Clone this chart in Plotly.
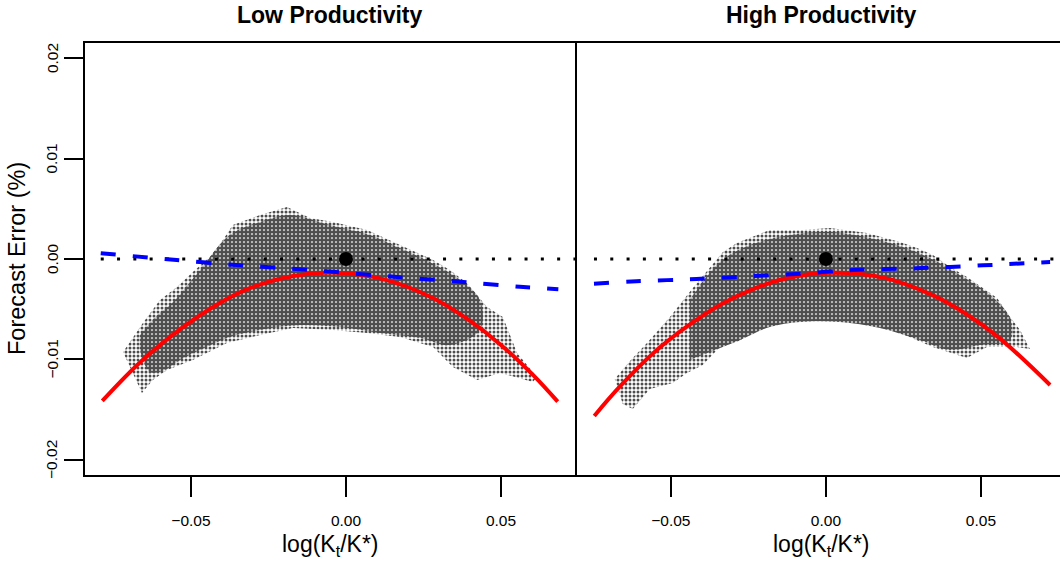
import plotly.graph_objects as go

# ---------------- data ----------------
# Low productivity panel: outline of the simulated point cloud
low_cloud_upper_x = [-0.0719, -0.0655, -0.0600, -0.0545, -0.0494, -0.0439, -0.0397, -0.0365, -0.0277,
                     -0.0190, -0.0116, -0.0042, 0.0068, 0.0152, 0.0206, 0.0281, 0.0335, 0.0390,
                     0.0455, 0.0506, 0.0552, 0.0616]
low_cloud_upper_y = [-0.00925, -0.00637, -0.00408, -0.00279, -0.00129, 0.00020, 0.00189, 0.00338, 0.00438,
                     0.00517, 0.00408, 0.00368, 0.00289, 0.00169, 0.00090, -0.00010, -0.00109, -0.00239,
                     -0.00478, -0.00577, -0.00935, -0.01174]
low_cloud_lower_x = [-0.0658, -0.0623, -0.0577, -0.0494, -0.0384, -0.0277, -0.0171, -0.0042, 0.0068,
                     0.0174, 0.0281, 0.0345, 0.0423, 0.0497, 0.0603]
low_cloud_lower_y = [-0.01333, -0.01204, -0.01104, -0.01005, -0.00836, -0.00756, -0.00687, -0.00706, -0.00736,
                     -0.00776, -0.00876, -0.01075, -0.01204, -0.01134, -0.01224]
# dense core of the cloud
low_core_upper_x = [-0.0665, -0.0616, -0.0552, -0.0471, -0.0374, -0.0277, -0.0181, -0.0052, 0.0077, 0.0174,
                    0.0271, 0.0368, 0.0432]
low_core_upper_y = [-0.00756, -0.00587, -0.00408, -0.00109, 0.00239, 0.00368, 0.00438, 0.00338, 0.00239, 0.00109,
                    -0.00030, -0.00209, -0.00408]
low_core_lower_x = [-0.0665, -0.0632, -0.0584, -0.0535, -0.0471, -0.0374, -0.0277, -0.0148, -0.0019, 0.0110,
                    0.0239, 0.0335, 0.0432]
low_core_lower_y = [-0.00900, -0.01124, -0.01104, -0.01005, -0.00905, -0.00776, -0.00706, -0.00657, -0.00677,
                    -0.00736, -0.00786, -0.00856, -0.00706]

low_fit_x = [-0.0786, -0.0654, -0.0493, -0.0331, -0.0170, -0.0030, 0.0120, 0.0282, 0.0389, 0.0497, 0.0604, 0.0683]
low_fit_y = [-0.01413, -0.01000, -0.00607, -0.00318, -0.00170, -0.00136, -0.00200, -0.00390, -0.00592,
             -0.00848, -0.01156, -0.01420]

low_lin_x = [-0.0791, -0.0546, -0.0353, -0.0148, 0.0174, 0.0368, 0.0561, 0.0685]
low_lin_y = [0.00057, -0.00010, -0.00060, -0.00102, -0.00182, -0.00226, -0.00276, -0.00301]

low_zero_x = [-0.0791, 0.0742]

# High productivity panel
high_cloud_upper_x = [-0.0681, -0.0626, -0.0574, -0.0503, -0.0429, -0.0332, -0.0287, -0.0223, -0.0181,
                      -0.0074, 0.0013, 0.0132, 0.0239, 0.0294, 0.0345, 0.0400, 0.0455, 0.0506,
                      0.0552, 0.0584, 0.0626, 0.0658]
high_cloud_upper_y = [-0.01194, -0.00995, -0.00826, -0.00577, -0.00289, 0.00070, 0.00159, 0.00239, 0.00289,
                      0.00289, 0.00308, 0.00259, 0.00169, 0.00109, 0.00040, -0.00080, -0.00179, -0.00289,
                      -0.00388, -0.00537, -0.00706, -0.00896]
high_cloud_lower_x = [-0.0655, -0.0623, -0.0568, -0.0494, -0.0448, -0.0397, -0.0342, -0.0287, -0.0181,
                      -0.0126, -0.0084, 0.0023, 0.0132, 0.0239, 0.0345, 0.0455, 0.0474, 0.0519, 0.0616]
high_cloud_lower_y = [-0.01443, -0.01493, -0.01294, -0.01234, -0.01134, -0.01055, -0.00876, -0.00826, -0.00637,
                      -0.00577, -0.00607, -0.00607, -0.00637, -0.00736, -0.00876, -0.00985, -0.00955,
                      -0.00876, -0.00876]
high_core_upper_x = [-0.0439, -0.0342, -0.0245, -0.0116, 0.0013, 0.0142, 0.0239, 0.0335, 0.0432, 0.0529, 0.0594]
high_core_upper_y = [-0.00408, -0.00030, 0.00139, 0.00239, 0.00269, 0.00209, 0.00129, 0.00010, -0.00159, -0.00358, -0.00587]
high_core_lower_x = [-0.0439, -0.0374, -0.0277, -0.0181, -0.0084, 0.0045, 0.0174, 0.0303, 0.0400, 0.0497, 0.0594]
high_core_lower_y = [-0.01005, -0.00925, -0.00806, -0.00677, -0.00627, -0.00627, -0.00687, -0.00806, -0.00905, -0.00856, -0.00806]

high_fit_x = [-0.0747, -0.0665, -0.0557, -0.0449, -0.0342, -0.0235, -0.0127, 0.0013, 0.0185, 0.0346,
              0.0454, 0.0561, 0.0723]
high_fit_y = [-0.01562, -0.01271, -0.00938, -0.00674, -0.00458, -0.00300, -0.00192, -0.00138, -0.00185,
              -0.00362, -0.00550, -0.00790, -0.01254]

high_lin_x = [-0.0748, -0.0611, -0.0417, -0.0213, -0.0095, 0.0088, 0.0293, 0.0507, 0.0723]
high_lin_y = [-0.00246, -0.00222, -0.00199, -0.00166, -0.00149, -0.00109, -0.00093, -0.00063, -0.00030]

high_zero_x = [-0.0748, 0.0755]

steady_x = [0.0]
steady_y = [0.0]

panel_titles = ["Low Productivity", "High Productivity"]
x_tick_vals = [-0.05, 0.0, 0.05]
x_tick_text = ["\u22120.05", "0.00", "0.05"]
y_tick_vals = [-0.02, -0.01, 0.0, 0.01, 0.02]
y_tick_text = ["\u22120.02", "\u22120.01", "0.00", "0.01", "0.02"]

# ---------------- styling ----------------
FONT = "Liberation Sans, Arial, Helvetica, sans-serif"
GRAY = "#4d4d4d"
W, H = 1060, 563
ML, MR, MT, MB = 84, 0, 42, 87
split = (576 - ML) / (W - ML - MR)

fig = go.Figure()

panels = [
    ("x", low_cloud_upper_x, low_cloud_upper_y, low_cloud_lower_x, low_cloud_lower_y,
     low_core_upper_x, low_core_upper_y, low_core_lower_x, low_core_lower_y,
     low_fit_x, low_fit_y, low_lin_x, low_lin_y, low_zero_x),
    ("x2", high_cloud_upper_x, high_cloud_upper_y, high_cloud_lower_x, high_cloud_lower_y,
     high_core_upper_x, high_core_upper_y, high_core_lower_x, high_core_lower_y,
     high_fit_x, high_fit_y, high_lin_x, high_lin_y, high_zero_x),
]

for (xa, ux, uy, lx, ly, cux, cuy, clx, cly, fx, fy, bx, by, zx) in panels:
    # outer (sparse) part of the point cloud
    fig.add_trace(go.Scatter(
        x=ux + lx[::-1], y=uy + ly[::-1], xaxis=xa, yaxis="y",
        mode="lines", line=dict(width=0, color="rgba(0,0,0,0)"),
        fill="toself", fillcolor="rgba(0,0,0,0)",
        fillpattern=dict(shape=".", fgcolor=GRAY, bgcolor="rgba(0,0,0,0)",
                         size=4, solidity=0.45, fillmode="replace"),
        hoverinfo="skip", showlegend=False))
    # dense core of the point cloud
    fig.add_trace(go.Scatter(
        x=cux + clx[::-1], y=cuy + cly[::-1], xaxis=xa, yaxis="y",
        mode="lines", line=dict(width=0, color="rgba(0,0,0,0)", shape="spline"),
        fill="toself", fillcolor="rgba(0,0,0,0)",
        fillpattern=dict(shape=".", fgcolor=GRAY, bgcolor="rgba(0,0,0,0)",
                         size=4, solidity=0.8, fillmode="replace"),
        hoverinfo="skip", showlegend=False))
    # zero line (dotted)
    fig.add_trace(go.Scatter(
        x=zx, y=[0, 0], xaxis=xa, yaxis="y", mode="lines",
        line=dict(color="black", width=3, dash="3px,13.3px"),
        showlegend=False, hoverinfo="skip"))
    # steady state point
    fig.add_trace(go.Scatter(
        x=steady_x, y=steady_y, xaxis=xa, yaxis="y", mode="markers",
        marker=dict(color="black", size=14), showlegend=False, hoverinfo="skip"))
    # quadratic fit (red)
    fig.add_trace(go.Scatter(
        x=fx, y=fy, xaxis=xa, yaxis="y", mode="lines",
        line=dict(color="#ff0000", width=4, shape="spline", smoothing=1.0),
        showlegend=False, hoverinfo="skip"))
    # linear fit (blue dashed)
    fig.add_trace(go.Scatter(
        x=bx, y=by, xaxis=xa, yaxis="y", mode="lines",
        line=dict(color="#0000ff", width=4, dash="15px,17px", shape="spline", smoothing=0.6),
        showlegend=False, hoverinfo="skip"))

tick_font = dict(family=FONT, size=15.5, color="black")
common_x = dict(tickmode="array", tickvals=x_tick_vals, ticktext=x_tick_text,
                ticks="outside", ticklen=20, tickwidth=2, tickcolor="black",
                showgrid=False, zeroline=False, showline=False, tickfont=tick_font,
                ticklabelstandoff=10, anchor="y", fixedrange=True)

fig.update_layout(
    width=W, height=H, autosize=False,
    margin=dict(l=ML, r=MR, t=MT, b=MB, pad=0),
    paper_bgcolor="white", plot_bgcolor="white",
    font=dict(family=FONT, color="black"),
    showlegend=False,
    xaxis=dict(domain=[0, split], range=[-0.0845, 0.0742], **common_x),
    xaxis2=dict(domain=[split, 1], range=[-0.0806, 0.0755], **common_x),
    yaxis=dict(range=[-0.0216, 0.0216], tickmode="array", tickvals=y_tick_vals,
               ticks="outside", ticklen=19, tickwidth=2, tickcolor="black",
               showgrid=False, zeroline=False, showline=False, showticklabels=False,
               anchor="x", fixedrange=True),
)

# rotated y tick labels (R style, parallel to the axis)
for v, t in zip(y_tick_vals, y_tick_text):
    fig.add_annotation(x=0, xref="paper", xshift=-32, xanchor="center", y=v, yref="y", yanchor="middle",
                       textangle=-90, text=t, showarrow=False, font=tick_font)

# frames
frame = dict(color="black", width=2)
fig.add_shape(type="rect", xref="paper", yref="paper", x0=0, x1=split, y0=0, y1=1, line=frame, layer="above")
fig.add_shape(type="line", xref="paper", yref="paper", x0=split, x1=1.01, y0=0, y1=0, line=frame, layer="above")
fig.add_shape(type="line", xref="paper", yref="paper", x0=split, x1=1.01, y0=1, y1=1, line=frame, layer="above")

# titles and axis labels
centers = [split / 2, (split + 1.0066) / 2]
for c, t in zip(centers, panel_titles):
    fig.add_annotation(x=c, y=1, yshift=27, xref="paper", yref="paper", yanchor="middle", xanchor="center",
                       text="<b>%s</b>" % t, showarrow=False, font=dict(family=FONT, size=23))
for c in centers:
    fig.add_annotation(x=c, xref="paper", y=0, yref="paper", yshift=-69, yanchor="middle", xanchor="center",
                       text="log(K<sub>t</sub>/K*)", showarrow=False, font=dict(family=FONT, size=23))
fig.add_annotation(x=0, xref="paper", xshift=-67, xanchor="center", y=0.5, yref="paper", yanchor="middle",
                   textangle=-90, text="Forecast Error (%)", showarrow=False, font=dict(family=FONT, size=23.5))

fig.write_html("out.html")
